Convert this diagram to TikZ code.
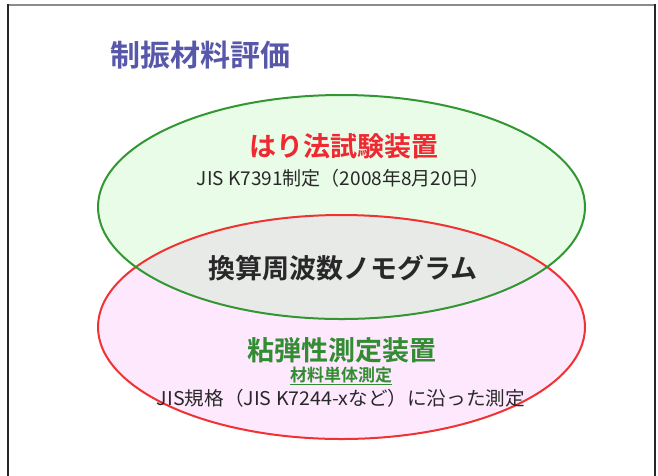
\documentclass[tikz,border=0pt]{standalone}
\usepackage{fontspec}
\usepackage{graphicx}
\newfontfamily\jp{Noto Sans CJK JP}[BoldFont={Noto Sans CJK JP Bold}]
\definecolor{titleblue}{RGB}{88,88,170}
\definecolor{txtred}{RGB}{240,40,50}
\definecolor{txtgreen}{RGB}{50,140,50}
\definecolor{linegreen}{RGB}{50,150,50}
\definecolor{linered}{RGB}{240,50,50}
\definecolor{fillgreen}{RGB}{232,252,232}
\definecolor{fillpink}{RGB}{253,232,253}
\definecolor{fillgray}{RGB}{232,234,232}
\definecolor{txtdark}{RGB}{40,40,40}
\begin{document}
\begin{tikzpicture}[x=1pt,y=-1pt,
  lbl/.style={inner sep=0pt,anchor=center,font=\jp},
  big/.style={lbl,font=\jp\bfseries\fontsize{27}{30}\selectfont},
  small/.style={lbl,font=\jp\fontsize{19}{21}\selectfont,text=txtdark}]
\useasboundingbox (0,0) rectangle (658,475);
\fill[white] (0,0) rectangle (658,475);
% frame
\draw[line width=2pt,gray!90] (8,5) -- (655,5);
\draw[line width=2.5pt,black!85] (8,4) -- (8,476);
\draw[line width=2pt,black!85] (654.5,4) -- (654.5,476);
% ellipses
\fill[fillgreen] (341.5,207) ellipse [x radius=243.5, y radius=112];
\fill[fillpink] (341.5,327) ellipse [x radius=243.5, y radius=112];
\begin{scope}
  \clip (341.5,207) ellipse [x radius=243.5, y radius=112];
  \fill[fillgray] (341.5,327) ellipse [x radius=243.5, y radius=112];
\end{scope}
\draw[linered,line width=2pt] (341.5,327) ellipse [x radius=243.5, y radius=112];
\draw[linegreen,line width=2pt] (341.5,207) ellipse [x radius=243.5, y radius=112];
% texts
\node[lbl,anchor=west,font=\jp\bfseries\fontsize{30}{32}\selectfont,text=titleblue] (title) at (110,55) {制振材料評価};
\node[big,text=txtred] (hari) at (344,146) {はり法試験装置};
\node[small] (jis1) at (343.5,178) {\resizebox{293pt}{\height}{JIS K7391制定（2008年8月20日）}};
\node[big,text=txtdark] (nomo) at (343,268) {換算周波数ノモグラム};
\node[big,text=txtgreen] (nendan) at (342,350) {粘弾性測定装置};
\node[lbl,font=\jp\bfseries\fontsize{17}{18}\selectfont,text=txtgreen] (zairyo) at (341,376) {\underline{材料単体測定}};
\node[small] (jis2) at (341,398) {\resizebox{368pt}{\height}{JIS規格（JIS K7244-xなど）に沿った測定}};
\end{tikzpicture}
\end{document}
